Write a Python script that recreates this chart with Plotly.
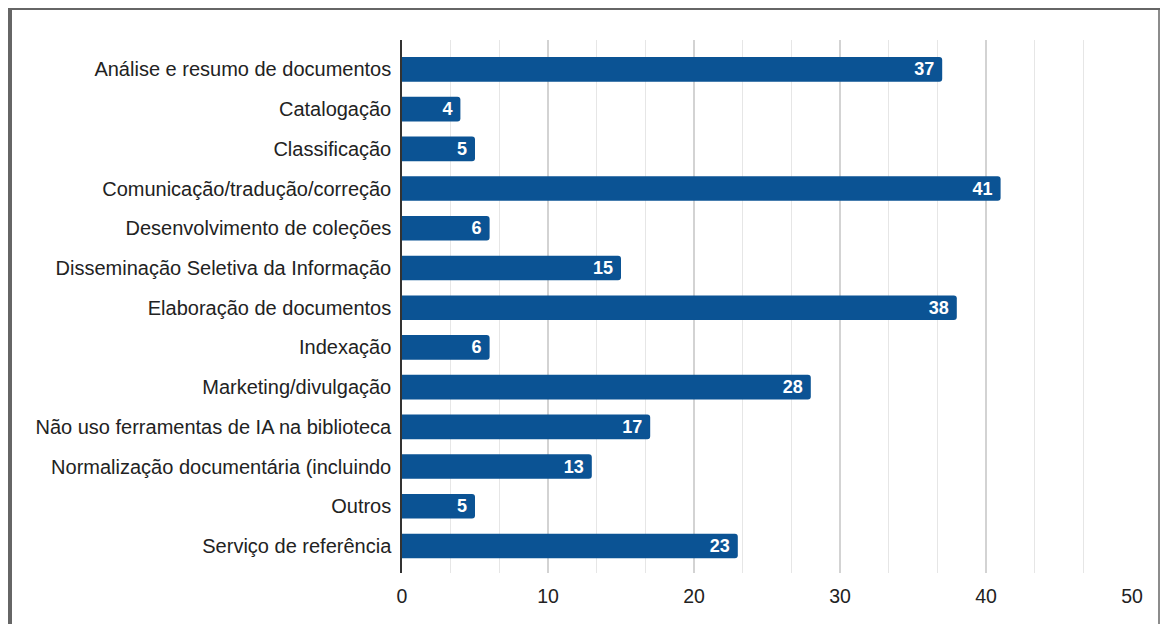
import plotly.graph_objects as go

categories = [
    "Análise e resumo de documentos",
    "Catalogação",
    "Classificação",
    "Comunicação/tradução/correção",
    "Desenvolvimento de coleções",
    "Disseminação Seletiva da Informação",
    "Elaboração de documentos",
    "Indexação",
    "Marketing/divulgação",
    "Não uso ferramentas de IA na biblioteca",
    "Normalização documentária (incluindo",
    "Outros",
    "Serviço de referência",
]
values = [37, 4, 5, 41, 6, 15, 38, 6, 28, 17, 13, 5, 23]
x_ticks = [0, 10, 20, 30, 40, 50]

# page body has an 8px margin; build the figure in page coordinates minus 8
OFF = 8
W, H = 1168 - 2 * OFF, 632 - 2 * OFF
L, T = 402 - OFF, 40 - OFF
R = W - (1132 - OFF)
B = H - (573 - OFF)
pw, ph = W - L - R, H - T - B

def px_x(p):
    return (p - OFF - L) / pw

def px_y(p):
    return (H - B - (p - OFF)) / ph

fig = go.Figure(go.Bar(
    x=values,
    y=categories,
    orientation="h",
    marker=dict(color="#0b5394", line=dict(width=0)),
    width=0.62,
    texttemplate="%{x}\u00a0",
    textposition="inside",
    insidetextanchor="end",
    textangle=0,
    textfont=dict(family="Liberation Sans, Arial, sans-serif", size=18, color="white", weight="bold"),
    cliponaxis=False,
))

fig.update_layout(
    width=W, height=H,
    margin=dict(l=L, r=R, t=T, b=B, pad=0),
    paper_bgcolor="white",
    plot_bgcolor="white",
    showlegend=False,
    barcornerradius=3,
    uniformtext=dict(minsize=18, mode="show"),
    font=dict(family="Liberation Sans, Arial, sans-serif", size=20, color="#222222"),
    xaxis=dict(
        range=[0, 50],
        tickvals=x_ticks,
        ticktext=[str(t) for t in x_ticks],
        showgrid=True,
        gridcolor="#d3d3d3",
        gridwidth=1.5,
        zeroline=False,
        showline=False,
        ticks="",
        ticklabelstandoff=9,
        tickfont=dict(size=19.5, color="#222222"),
        minor=dict(dtick=10/3, tick0=0, showgrid=True, gridcolor="#e6e6e6", gridwidth=1),
    ),
    yaxis=dict(
        categoryorder="array",
        categoryarray=categories,
        autorange=False,
        range=[12.68, -0.74],
        showgrid=False,
        zeroline=False,
        showline=True,
        linecolor="#333333",
        linewidth=1.5,
        ticks="",
        ticklabelstandoff=5,
        tickfont=dict(size=20, color="#222222"),
    ),
    shapes=[
        dict(type="line", xref="paper", yref="paper",
             x0=px_x(9.5), x1=px_x(9.5), y0=px_y(6), y1=px_y(640),
             line=dict(color="#666666", width=5)),
        dict(type="line", xref="paper", yref="paper",
             x0=px_x(7), x1=px_x(1167), y0=px_y(8), y1=px_y(8),
             line=dict(color="#666666", width=4)),
        dict(type="line", xref="paper", yref="paper",
             x0=px_x(1159), x1=px_x(1159), y0=px_y(8), y1=px_y(640),
             line=dict(color="#666666", width=1.5)),
    ],
)

fig.write_html("out.html")
